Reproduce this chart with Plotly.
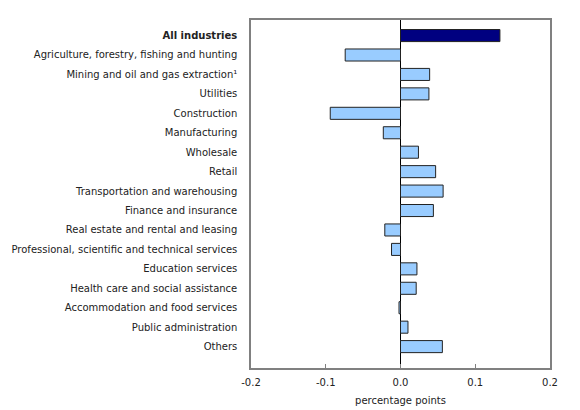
import plotly.graph_objects as go

# Industry categories (top to bottom)
industries = [
    "<b>All industries</b>",
    "Agriculture, forestry, fishing and hunting",
    "Mining and oil and gas extraction¹",
    "Utilities",
    "Construction",
    "Manufacturing",
    "Wholesale",
    "Retail",
    "Transportation and warehousing",
    "Finance and insurance",
    "Real estate and rental and leasing",
    "Professional, scientific and technical services",
    "Education services",
    "Health care and social assistance",
    "Accommodation and food services",
    "Public administration",
    "Others",
]

# Contribution in percentage points
contributions = [
    0.133, -0.074, 0.039, 0.038, -0.094, -0.023, 0.024, 0.047, 0.057,
    0.044, -0.021, -0.012, 0.022, 0.021, -0.002, 0.010, 0.056,
]

x_ticks = [-0.2, -0.1, 0.0, 0.1, 0.2]

bar_colors = ["#000080"] + ["#99CCFF"] * (len(industries) - 1)

fig = go.Figure()
fig.add_trace(
    go.Bar(
        x=contributions, y=industries, orientation="h",
        marker=dict(color=bar_colors, line=dict(color="#222222", width=1)),
        width=0.62,
        hoverinfo="x+y",
    )
)

fig.update_layout(
    width=580, height=410,
    margin=dict(l=251, r=30, t=20, b=42),
    plot_bgcolor="white",
    paper_bgcolor="white",
    showlegend=False,
    font=dict(family="DejaVu Sans, Verdana, sans-serif", size=10, color="#222222"),
)

fig.update_xaxes(
    range=[-0.2, 0.2],
    tickvals=x_ticks,
    ticktext=[f"{v:.1f}" for v in x_ticks],
    ticks="inside", ticklen=4, tickcolor="#808080",
    ticklabelstandoff=4,
    showgrid=False,
    zeroline=True, zerolinecolor="black", zerolinewidth=1,
    showline=True, linecolor="#808080", linewidth=1.5, mirror=True,
    title=dict(text="percentage points", standoff=10, font=dict(size=10)),
    automargin=False,
)

fig.update_yaxes(
    type="category",
    categoryorder="array", categoryarray=industries,
    range=[len(industries) - 1 + 1.1, -0.8],
    showgrid=False,
    ticks="",
    showline=True, linecolor="#808080", linewidth=1.5, mirror=True,
    ticklabelstandoff=10,
    automargin=False,
)

# drop the default page margin so the figure sits at the window origin
fig.write_html(
    "out.html",
    config={"displayModeBar": False},
    post_script="document.body.style.margin='0';",
)
